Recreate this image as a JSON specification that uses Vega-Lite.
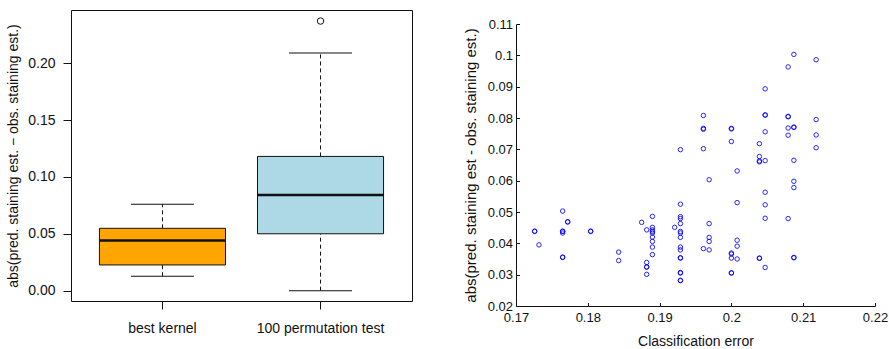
{
  "$schema": "https://vega.github.io/schema/vega-lite/v6.json",
  "padding": {"left": 6, "top": 9, "right": 0, "bottom": 0},
  "background": "white",
  "config": {
    "view": {"stroke": null},
    "font": "Liberation Sans",
    "axis": {"labelColor": "#111", "titleColor": "#111", "tickColor": "#111", "domainColor": "#111", "grid": false, "labelFont": "Liberation Sans", "titleFont": "Liberation Sans", "titleFontWeight": "normal"}
  },
  "datasets": {
    "box": [
      {"group": "best kernel", "lower": 0.0127, "q1": 0.0226, "median": 0.0440, "q3": 0.0548, "upper": 0.0759},
      {"group": "100 permutation test", "lower": 0.0, "q1": 0.0500, "median": 0.0841, "q3": 0.1180, "upper": 0.2090}
    ],
    "outliers": [
      {"group": "100 permutation test", "value": 0.237}
    ],
    "spacer": [],
    "scatter": [
      {"err": 0.1726, "diff": 0.0438}, {"err": 0.1726, "diff": 0.0439},
      {"err": 0.1732, "diff": 0.0395},
      {"err": 0.1765, "diff": 0.0503}, {"err": 0.1765, "diff": 0.0438}, {"err": 0.1765, "diff": 0.0439}, {"err": 0.1765, "diff": 0.0433}, {"err": 0.1765, "diff": 0.0355}, {"err": 0.1765, "diff": 0.0356},
      {"err": 0.1772, "diff": 0.0468}, {"err": 0.1772, "diff": 0.0469},
      {"err": 0.1804, "diff": 0.0438}, {"err": 0.1804, "diff": 0.0439},
      {"err": 0.1843, "diff": 0.0372}, {"err": 0.1843, "diff": 0.0345},
      {"err": 0.1875, "diff": 0.0467},
      {"err": 0.1882, "diff": 0.0443}, {"err": 0.1882, "diff": 0.0339}, {"err": 0.1882, "diff": 0.0324}, {"err": 0.1882, "diff": 0.0325}, {"err": 0.1882, "diff": 0.0301},
      {"err": 0.1890, "diff": 0.0486}, {"err": 0.1890, "diff": 0.0451}, {"err": 0.1890, "diff": 0.0443}, {"err": 0.1890, "diff": 0.0438}, {"err": 0.1890, "diff": 0.0433}, {"err": 0.1890, "diff": 0.0420}, {"err": 0.1890, "diff": 0.0406}, {"err": 0.1890, "diff": 0.0388}, {"err": 0.1890, "diff": 0.0364},
      {"err": 0.1921, "diff": 0.0451},
      {"err": 0.1929, "diff": 0.0699}, {"err": 0.1929, "diff": 0.0525}, {"err": 0.1929, "diff": 0.0485}, {"err": 0.1929, "diff": 0.0479}, {"err": 0.1929, "diff": 0.0463}, {"err": 0.1929, "diff": 0.0438}, {"err": 0.1929, "diff": 0.0433}, {"err": 0.1929, "diff": 0.0419}, {"err": 0.1929, "diff": 0.0388}, {"err": 0.1929, "diff": 0.0379}, {"err": 0.1929, "diff": 0.0353}, {"err": 0.1929, "diff": 0.0354}, {"err": 0.1929, "diff": 0.0307}, {"err": 0.1929, "diff": 0.0305}, {"err": 0.1929, "diff": 0.0282}, {"err": 0.1929, "diff": 0.0281},
      {"err": 0.1961, "diff": 0.0808}, {"err": 0.1961, "diff": 0.0767}, {"err": 0.1961, "diff": 0.0764}, {"err": 0.1961, "diff": 0.0702}, {"err": 0.1961, "diff": 0.0383},
      {"err": 0.1969, "diff": 0.0603}, {"err": 0.1969, "diff": 0.0463}, {"err": 0.1969, "diff": 0.0419}, {"err": 0.1969, "diff": 0.0406}, {"err": 0.1969, "diff": 0.0379},
      {"err": 0.2000, "diff": 0.0767}, {"err": 0.2000, "diff": 0.0765}, {"err": 0.2000, "diff": 0.0725}, {"err": 0.2000, "diff": 0.0369}, {"err": 0.2000, "diff": 0.0366}, {"err": 0.2000, "diff": 0.0353}, {"err": 0.2000, "diff": 0.0306}, {"err": 0.2000, "diff": 0.0305},
      {"err": 0.2008, "diff": 0.0631}, {"err": 0.2008, "diff": 0.0530}, {"err": 0.2008, "diff": 0.0410}, {"err": 0.2008, "diff": 0.0391}, {"err": 0.2008, "diff": 0.0350},
      {"err": 0.2039, "diff": 0.0718}, {"err": 0.2039, "diff": 0.0677}, {"err": 0.2039, "diff": 0.0663}, {"err": 0.2039, "diff": 0.0660}, {"err": 0.2039, "diff": 0.0353}, {"err": 0.2039, "diff": 0.0352},
      {"err": 0.2047, "diff": 0.0893}, {"err": 0.2047, "diff": 0.0810}, {"err": 0.2047, "diff": 0.0809}, {"err": 0.2047, "diff": 0.0756}, {"err": 0.2047, "diff": 0.0664}, {"err": 0.2047, "diff": 0.0563}, {"err": 0.2047, "diff": 0.0523}, {"err": 0.2047, "diff": 0.0480}, {"err": 0.2047, "diff": 0.0323},
      {"err": 0.2079, "diff": 0.0963}, {"err": 0.2079, "diff": 0.0804}, {"err": 0.2079, "diff": 0.0805}, {"err": 0.2079, "diff": 0.0768}, {"err": 0.2079, "diff": 0.0745}, {"err": 0.2079, "diff": 0.0479},
      {"err": 0.2087, "diff": 0.1003}, {"err": 0.2087, "diff": 0.0770}, {"err": 0.2087, "diff": 0.0771}, {"err": 0.2087, "diff": 0.0665}, {"err": 0.2087, "diff": 0.0598}, {"err": 0.2087, "diff": 0.0578}, {"err": 0.2087, "diff": 0.0354}, {"err": 0.2087, "diff": 0.0355},
      {"err": 0.2118, "diff": 0.0986}, {"err": 0.2118, "diff": 0.0795}, {"err": 0.2118, "diff": 0.0746}, {"err": 0.2118, "diff": 0.0705}
    ]
  },
  "spacing": 50,
  "hconcat": [
    {
      "width": 341,
      "height": 291,
      "view": {"stroke": "#111", "strokeWidth": 1},
      "layer": [
        {
          "data": {"name": "box"},
          "mark": {"type": "rule", "strokeDash": [4, 3], "color": "#111", "strokeWidth": 1},
          "encoding": {
            "x": {"field": "group", "type": "nominal", "sort": ["best kernel", "100 permutation test"],
                  "scale": {"type": "band", "paddingInner": 0.2025, "paddingOuter": 0.18},
                  "axis": {"title": null, "labelAngle": 0, "domain": false, "tickSize": 8, "labelFontSize": 14, "labelPadding": 12}},
            "y": {"field": "q3", "type": "quantitative",
                  "scale": {"domain": [-0.0091, 0.2467], "nice": false, "zero": false},
                  "axis": {"title": "abs(pred. staining est. − obs. staining est.)", "titleFontSize": 14, "titlePadding": 7, "values": [0, 0.05, 0.1, 0.15, 0.2], "format": ".2f", "domain": false, "tickSize": 8, "labelFontSize": 14, "labelPadding": 8}},
            "y2": {"field": "upper"}
          }
        },
        {
          "data": {"name": "box"},
          "mark": {"type": "rule", "strokeDash": [4, 3], "color": "#111", "strokeWidth": 1},
          "encoding": {
            "x": {"field": "group", "type": "nominal", "sort": ["best kernel", "100 permutation test"]},
            "y": {"field": "lower", "type": "quantitative", "title": "abs(pred. staining est. − obs. staining est.)"},
            "y2": {"field": "q1"}
          }
        },
        {
          "data": {"name": "box"},
          "mark": {"type": "tick", "size": 63, "thickness": 1, "color": "#111", "opacity": 1},
          "encoding": {
            "x": {"field": "group", "type": "nominal", "sort": ["best kernel", "100 permutation test"]},
            "y": {"field": "upper", "type": "quantitative", "title": "abs(pred. staining est. − obs. staining est.)"}
          }
        },
        {
          "data": {"name": "box"},
          "mark": {"type": "tick", "size": 63, "thickness": 1, "color": "#111", "opacity": 1},
          "encoding": {
            "x": {"field": "group", "type": "nominal", "sort": ["best kernel", "100 permutation test"]},
            "y": {"field": "lower", "type": "quantitative", "title": "abs(pred. staining est. − obs. staining est.)"}
          }
        },
        {
          "data": {"name": "box"},
          "mark": {"type": "bar", "stroke": "#111", "strokeWidth": 1},
          "encoding": {
            "x": {"field": "group", "type": "nominal", "sort": ["best kernel", "100 permutation test"]},
            "y": {"field": "q1", "type": "quantitative", "title": "abs(pred. staining est. − obs. staining est.)"},
            "y2": {"field": "q3"},
            "fill": {"field": "group", "type": "nominal", "scale": {"domain": ["best kernel", "100 permutation test"], "range": ["#FFA500", "#ADD8E6"]}, "legend": null}
          }
        },
        {
          "data": {"name": "box"},
          "mark": {"type": "tick", "size": 126, "thickness": 2.5, "color": "#111", "opacity": 1},
          "encoding": {
            "x": {"field": "group", "type": "nominal", "sort": ["best kernel", "100 permutation test"]},
            "y": {"field": "median", "type": "quantitative", "title": "abs(pred. staining est. − obs. staining est.)"}
          }
        },
        {
          "data": {"name": "outliers"},
          "mark": {"type": "point", "shape": "circle", "filled": false, "color": "#111", "size": 42, "strokeWidth": 1, "opacity": 1},
          "encoding": {
            "x": {"field": "group", "type": "nominal", "sort": ["best kernel", "100 permutation test"]},
            "y": {"field": "value", "type": "quantitative", "title": "abs(pred. staining est. − obs. staining est.)"}
          }
        }
      ]
    },
    {
      "spacing": 7,
      "vconcat": [
        {
          "width": 359,
          "height": 1,
          "data": {"name": "spacer"},
          "mark": {"type": "point", "opacity": 0},
          "encoding": {}
        },
        {
          "width": 359,
          "height": 282,
          "data": {"name": "scatter"},
          "mark": {"type": "point", "shape": "circle", "filled": false, "color": "#0000ff", "size": 20, "strokeWidth": 1, "opacity": 0.85},
          "encoding": {
            "x": {"field": "err", "type": "quantitative",
                  "scale": {"domain": [0.17, 0.22], "nice": false, "zero": false},
                  "axis": {"title": "Classification error", "titleFontSize": 14, "titlePadding": 10, "values": [0.17, 0.18, 0.19, 0.2, 0.21, 0.22], "format": ".2~f", "tickSize": -3.5, "labelPadding": 9, "labelFontSize": 13, "labelFlush": false}},
            "y": {"field": "diff", "type": "quantitative",
                  "scale": {"domain": [0.02, 0.11], "nice": false, "zero": false},
                  "axis": {"title": "abs(pred. staining est - obs. staining est.)", "titleFontSize": 15, "titlePadding": 9, "values": [0.02, 0.03, 0.04, 0.05, 0.06, 0.07, 0.08, 0.09, 0.1, 0.11], "format": ".2~f", "tickSize": -3.5, "labelPadding": 7, "labelFontSize": 13, "labelFlush": false}}
          }
        }
      ]
    }
  ]
}
